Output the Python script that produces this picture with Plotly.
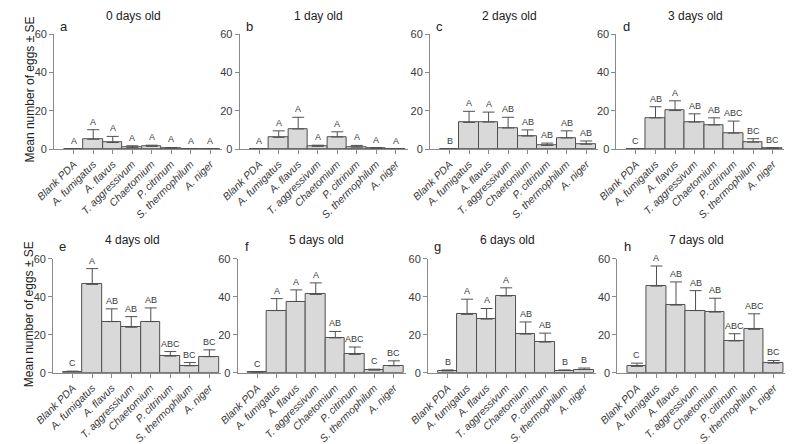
import plotly.graph_objects as go

categories = ["Blank PDA", "A. fumigatus", "A. flavus", "T. aggressivum",
              "Chaetomium", "P. citrinum", "S. thermophilum", "A. niger"]

titles = ["0 days old", "1 day old", "2 days old", "3 days old",
          "4 days old", "5 days old", "6 days old", "7 days old"]
panel_letters = ["a", "b", "c", "d", "e", "f", "g", "h"]

# mean values per panel
mean_0 = [0, 5.1, 3.4, 0.7, 1.4, 0.5, 0, 0]
mean_1 = [0, 6.1, 10.5, 1.4, 6.3, 1.0, 0.5, 0]
mean_2 = [0, 13.9, 14.1, 11.0, 6.8, 1.9, 5.8, 2.5]
mean_3 = [0, 16.3, 20.1, 14.1, 12.6, 8.3, 3.6, 0.5]
mean_4 = [0.7, 46.6, 27.0, 24.0, 27.0, 8.8, 3.7, 8.5]
mean_5 = [0.35, 32.8, 37.6, 41.3, 18.4, 9.7, 1.4, 3.7]
mean_6 = [1.0, 30.8, 28.3, 40.5, 20.4, 16.2, 1.2, 1.7]
mean_7 = [3.4, 45.7, 35.7, 32.8, 32.0, 16.8, 22.9, 5.1]

# standard errors (upper error bar length)
se_0 = [0, 5.0, 3.2, 1.0, 0.6, 0.3, 0, 0]
se_1 = [0, 3.4, 6.1, 0.6, 2.7, 0.9, 0.2, 0]
se_2 = [0, 5.8, 5.2, 5.6, 3.2, 1.2, 3.7, 1.7]
se_3 = [0, 5.8, 5.1, 4.3, 3.7, 6.3, 1.8, 0.2]
se_4 = [0.15, 8.3, 6.7, 5.6, 7.2, 2.4, 1.7, 3.6]
se_5 = [0.15, 6.3, 6.1, 6.1, 3.4, 3.9, 0.5, 2.6]
se_6 = [0.5, 8.0, 5.6, 4.3, 6.4, 4.7, 0.3, 0.8]
se_7 = [1.7, 10.6, 12.2, 10.5, 7.3, 3.8, 8.2, 1.4]

# significance letters
letters_0 = ["A", "A", "A", "A", "A", "A", "A", "A"]
letters_1 = ["A", "A", "A", "A", "A", "A", "A", "A"]
letters_2 = ["B", "A", "A", "AB", "AB", "AB", "AB", "AB"]
letters_3 = ["C", "AB", "A", "AB", "AB", "ABC", "BC", "BC"]
letters_4 = ["C", "A", "AB", "AB", "AB", "ABC", "BC", "BC"]
letters_5 = ["C", "A", "A", "A", "AB", "ABC", "C", "BC"]
letters_6 = ["B", "A", "A", "A", "AB", "AB", "B", "B"]
letters_7 = ["C", "A", "AB", "AB", "AB", "ABC", "ABC", "BC"]

means = [mean_0, mean_1, mean_2, mean_3, mean_4, mean_5, mean_6, mean_7]
ses = [se_0, se_1, se_2, se_3, se_4, se_5, se_6, se_7]
letters = [letters_0, letters_1, letters_2, letters_3,
           letters_4, letters_5, letters_6, letters_7]

W, H = 800, 444
# panel pixel layouts (x start, x end) per column, row y (zero px, sixty px)
col_px_top = [(36, 208), (226, 398), (421, 593), (612, 784)]
col_px_bot = [(35, 207), (224, 396), (419, 591), (613, 785)]
row_px = [(147, 29), (377, 260)]

FONT = "Liberation Sans, Arial, sans-serif"
AXCOL = "#8a8a8a"
TXT = "#3a3a3a"

fig = go.Figure()
xs = list(range(len(categories)))
ticktext = ["<i>%s</i>" % c for c in categories]

for i in range(8):
    row, col = divmod(i, 4)
    cx = (col_px_top if row == 0 else col_px_bot)[col]
    ry = row_px[row]
    n = i + 1
    xa = "xaxis" if n == 1 else "xaxis%d" % n
    ya = "yaxis" if n == 1 else "yaxis%d" % n
    xr = "x" if n == 1 else "x%d" % n
    yr = "y" if n == 1 else "y%d" % n
    fig.add_trace(go.Bar(
        x=xs, y=means[i], width=1.0,
        marker=dict(color="#d9d9d9", line=dict(color="#505050", width=1)),
        error_y=dict(type="data", symmetric=False, array=ses[i],
                     arrayminus=[0] * 8, color="#505050", thickness=1, width=6),
        xaxis=xr, yaxis=yr, showlegend=False, hoverinfo="skip"))
    fig.update_layout(**{
        xa: dict(domain=[cx[0] / W, cx[1] / W], range=[-1, 7.6], anchor=yr,
                 tickvals=xs, ticktext=ticktext, tickangle=-45,
                 ticks="outside", ticklen=4, tickcolor=AXCOL, showline=True,
                 linecolor=AXCOL, linewidth=1, showgrid=False, zeroline=False,
                 tickfont=dict(family=FONT, size=10.5, color=TXT)),
        ya: dict(domain=[(H - ry[0]) / H, (H - ry[1]) / H], range=[0, 60],
                 anchor=xr, tickvals=[0, 20, 40, 60], ticks="outside",
                 ticklen=4, tickcolor=AXCOL, showline=True, linecolor=AXCOL,
                 linewidth=1, showgrid=False, zeroline=False,
                 tickfont=dict(family=FONT, size=11, color=TXT)),
    })
    for j in range(8):
        fig.add_annotation(x=xs[j], y=means[i][j] + ses[i][j], xref=xr, yref=yr,
                           text=letters[i][j], showarrow=False, yanchor="bottom",
                           yshift=1, font=dict(family=FONT, size=9, color=TXT))
    # title
    fig.add_annotation(x=(cx[0] + cx[1]) / 2 / W - 5 / W,
                       y=(H - (10 if row == 0 else 240)) / H,
                       xref="paper", yref="paper", text=titles[i],
                       showarrow=False, xanchor="center", yanchor="middle",
                       font=dict(family=FONT, size=12, color="#222"))
    fig.add_annotation(x=(cx[0] + 10) / W, y=(H - (21 if row == 0 else 247)) / H,
                       xref="paper", yref="paper", text=panel_letters[i],
                       showarrow=False, xanchor="center", yanchor="middle",
                       font=dict(family=FONT, size=13, color="#222"))

for yc in (86, 317):
    fig.add_annotation(x=11 / W, y=(H - yc) / H, xref="paper", yref="paper",
                       text="Mean number of eggs ± SE", textangle=-90,
                       showarrow=False, xanchor="center", yanchor="middle",
                       font=dict(family=FONT, size=12, color="#222"))

fig.update_layout(width=W, height=H, margin=dict(l=0, r=0, t=0, b=0),
                  plot_bgcolor="white", paper_bgcolor="white", bargap=0)

fig.write_html("out.html", config={"displayModeBar": False},
               post_script="document.body.style.margin='0px';"
                           "document.body.style.overflow='hidden';")
